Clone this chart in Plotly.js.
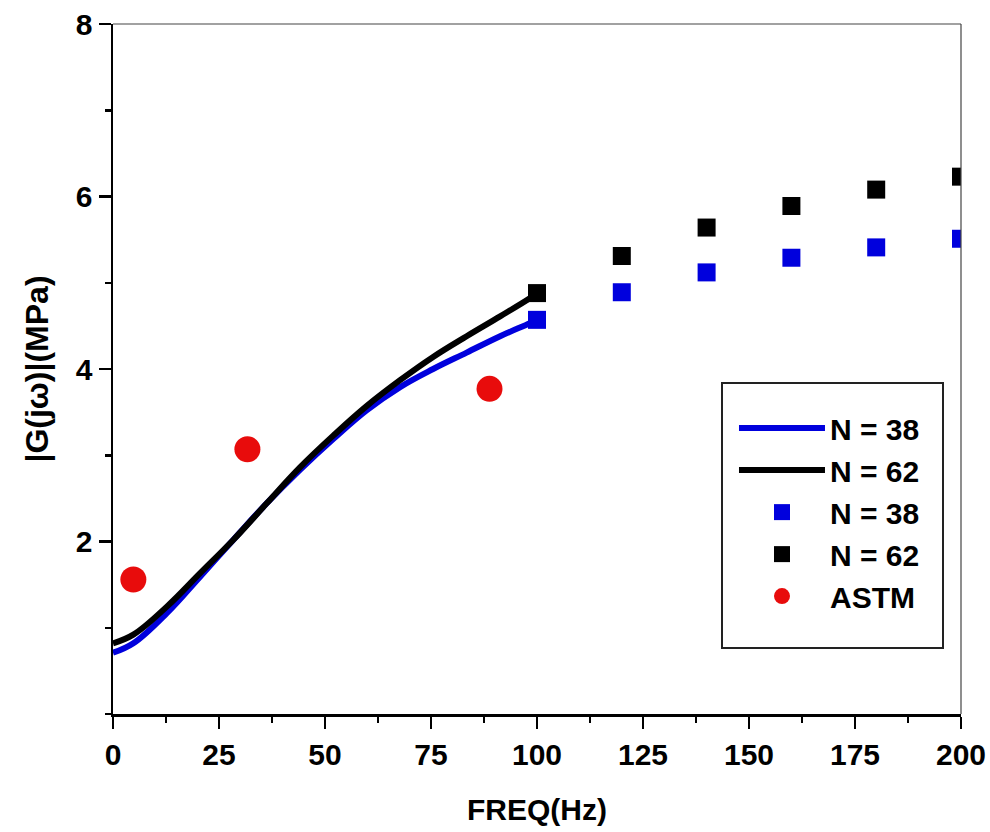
<!DOCTYPE html>
<html>
<head>
<meta charset="utf-8">
<script src="https://cdn.plot.ly/plotly-3.0.1.min.js"></script>
<style>html,body{margin:0;padding:0;background:#fff;}#chart{width:990px;height:832px;}</style>
</head>
<body>
<div id="chart"></div>
<script>
// Model curves (0-100 Hz)
const curveFreq = [0, 4.8, 12.7, 20.5, 28.4, 36.2, 44.1, 52.0, 59.8, 67.7, 75.5, 83.4, 91.3, 98.3, 100];
const curveN38 = [0.71, 0.82, 1.17, 1.59, 2.02, 2.44, 2.83, 3.19, 3.52, 3.79, 4.00, 4.19, 4.38, 4.53, 4.57];
const curveN62 = [0.82, 0.92, 1.245, 1.63, 2.02, 2.44, 2.86, 3.23, 3.57, 3.87, 4.14, 4.38, 4.61, 4.82, 4.88];
// Square points (100-200 Hz)
const ptFreq = [100, 120, 140, 160, 180, 200];
const ptN38 = [4.57, 4.89, 5.12, 5.29, 5.41, 5.51];
const ptN62 = [4.88, 5.31, 5.64, 5.89, 6.08, 6.23];
// ASTM points
const astmFreq = [4.8, 31.7, 88.8];
const astmVal = [1.56, 3.07, 3.77];
// Tick labels
const xTicks = [0, 25, 50, 75, 100, 125, 150, 175, 200];
const yTicks = [2, 4, 6, 8];

const FONT = 'Liberation Sans, Arial, sans-serif';
const BLUE = '#0000dd';
const RED = '#e80c0c';

const traces = [
  {x: curveFreq, y: curveN38, mode: 'lines', name: 'N = 38', line: {color: BLUE, width: 6, shape: 'spline', smoothing: 1.1}},
  {x: curveFreq, y: curveN62, mode: 'lines', name: 'N = 62', line: {color: '#000', width: 6, shape: 'spline', smoothing: 1.1}},
  {x: ptFreq, y: ptN38, mode: 'markers', name: 'N = 38', marker: {symbol: 'square', size: 18, color: BLUE}},
  {x: ptFreq, y: ptN62, mode: 'markers', name: 'N = 62', marker: {symbol: 'square', size: 18, color: '#000'}},
  {x: astmFreq, y: astmVal, mode: 'markers', name: 'ASTM', marker: {symbol: 'circle', size: 26, color: RED}}
];

const layout = {
  width: 990, height: 832,
  margin: {l: 113, r: 29, t: 24, b: 118},
  paper_bgcolor: '#fff', plot_bgcolor: '#fff',
  font: {family: FONT, size: 30, color: '#000', weight: 700},
  showlegend: true,
  legend: {
    x: 0.7323, y: 0.452, xanchor: 'left', yanchor: 'top',
    borderwidth: 0, bgcolor: 'rgba(0,0,0,0)',
    font: {family: FONT, size: 30, color: '#000', weight: 700},
    itemwidth: 86, tracegroupgap: 0
  },
  xaxis: {
    range: [0, 200], tickvals: xTicks, ticktext: xTicks.map(String),
    showgrid: false, zeroline: false, showline: true, linewidth: 2.5, linecolor: '#000',
    ticks: 'outside', ticklen: 12, tickwidth: 2.5, tickcolor: '#000',
    minor: {ticks: 'outside', dtick: 12.5, ticklen: 6, tickwidth: 2.5, tickcolor: '#000', showgrid: false},
    tickfont: {family: FONT, size: 30, weight: 700},
    title: {text: 'FREQ(Hz)', font: {family: FONT, size: 30, weight: 700}, standoff: 30}
  },
  yaxis: {
    range: [0, 8], tickvals: yTicks, ticktext: yTicks.map(String),
    showgrid: false, zeroline: false, showline: true, linewidth: 2.5, linecolor: '#000',
    ticks: 'outside', ticklen: 12, tickwidth: 2.5, tickcolor: '#000',
    minor: {ticks: 'outside', dtick: 1, ticklen: 6, tickwidth: 2.5, tickcolor: '#000', showgrid: false},
    tickfont: {family: FONT, size: 30, weight: 700},
    title: {text: '|G(jω)|(MPa)', font: {family: FONT, size: 32, weight: 700}, standoff: 18}
  },
  shapes: [
    {type: 'line', xref: 'paper', yref: 'paper', x0: 0, x1: 1, y0: 1, y1: 1, line: {color: '#444', width: 1.2}},
    {type: 'line', xref: 'paper', yref: 'paper', x0: 1, x1: 1, y0: 0, y1: 1, line: {color: '#444', width: 1.2}},
    // legend frame
    {type: 'rect', xref: 'paper', yref: 'paper',
     x0: (722 - 113) / 848, x1: (943 - 113) / 848, y0: (714 - 648) / 690, y1: (714 - 383) / 690,
     line: {color: '#222', width: 2}, fillcolor: 'rgba(0,0,0,0)', layer: 'below'}
  ]
};

Plotly.newPlot('chart', traces, layout, {displayModeBar: false, staticPlot: true});
</script>
</body>
</html>
